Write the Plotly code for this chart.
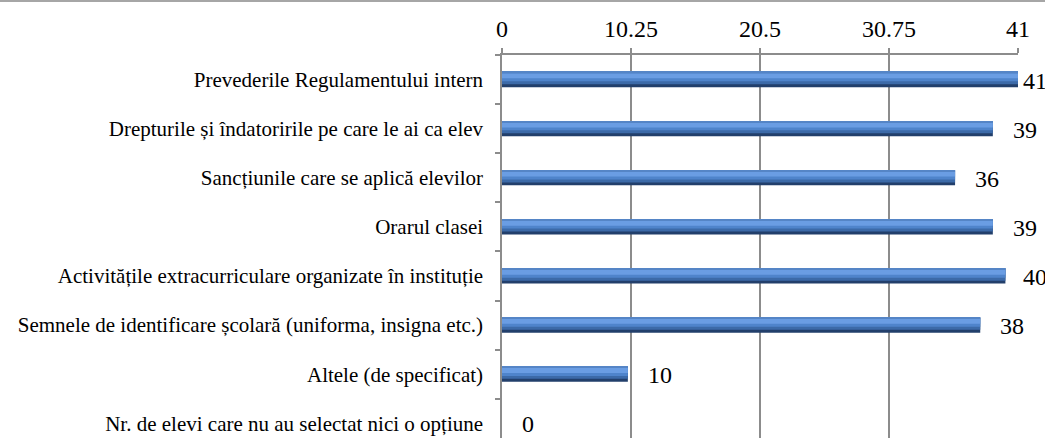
import plotly.graph_objects as go

categories = [
    "Prevederile Regulamentului intern",
    "Drepturile și îndatoririle pe care le ai ca elev",
    "Sancțiunile care se aplică elevilor",
    "Orarul clasei",
    "Activitățile extracurriculare organizate în instituție",
    "Semnele de identificare școlară (uniforma, insigna etc.)",
    "Altele (de specificat)",
    "Nr. de elevi care nu au selectat nici o opțiune",
]
values = [41, 39, 36, 39, 40, 38, 10, 0]
tick_vals = [0, 10.25, 20.5, 30.75, 41]
tick_text = ["0", "10.25", "20.5", "30.75", "41"]

W, H = 1045, 438
ML, MR, MT, MB = 502, 27, 55, 0
XMAX = 41
FONT = "Liberation Serif, Times New Roman, serif"

fig = go.Figure()

# layered bars to imitate the cylinder shading
layers = [
    (-0.155, 0.31, "#223f6b"),
    (-0.155, 0.25, "#3c6aa8"),
    (-0.155, 0.19, "#4f84cb"),
    (-0.125, 0.10, "#6a9de3"),
    (-0.155, 0.025, "#5585c6"),
]
for off, wid, col in layers:
    fig.add_trace(go.Bar(
        x=values, y=categories, orientation="h",
        offset=off, width=wid,
        marker=dict(color=col, line=dict(width=0)),
        hoverinfo="skip", showlegend=False,
    ))

# data labels
plot_w = W - ML - MR
label_size = 24
for c, v in zip(categories, values):
    end_px = ML + v / XMAX * plot_w
    txt_w = 0.5 * label_size * len(str(v))
    shift = min(18, W - end_px - txt_w)
    fig.add_annotation(
        x=v, y=c, text=str(v), showarrow=False,
        xanchor="left", yanchor="middle", xshift=shift, yshift=-1,
        font=dict(family=FONT, size=label_size, color="black"),
    )

fig.update_layout(
    width=W, height=H,
    margin=dict(l=ML, r=MR, t=MT, b=MB, pad=0),
    paper_bgcolor="white", plot_bgcolor="white",
    barmode="overlay",
    font=dict(family=FONT, color="black"),
    xaxis=dict(
        side="top", range=[0, XMAX],
        tickmode="array", tickvals=tick_vals, ticktext=tick_text,
        tickfont=dict(family=FONT, size=24, color="black"),
        showgrid=True, gridcolor="#8c8c8c", gridwidth=1.5,
        showline=True, linecolor="#8c8c8c", linewidth=1.5,
        ticks="outside", ticklen=5, tickcolor="#8c8c8c", tickwidth=1.5,
        ticklabelstandoff=2,
        zeroline=False, automargin=False, fixedrange=True,
    ),
    yaxis=dict(
        type="category", categoryorder="array", categoryarray=categories,
        range=[7.30, -0.5],
        tickfont=dict(family=FONT, size=21, color="black"),
        showline=True, linecolor="#8c8c8c", linewidth=1.5,
        ticks="outside", ticklen=5, tickcolor="#8c8c8c", tickwidth=1.5,
        tickson="boundaries", ticklabelstandoff=13,
        showgrid=False, zeroline=False, automargin=False, fixedrange=True,
    ),
    shapes=[dict(
        type="line", xref="paper", yref="paper",
        x0=-ML / plot_w, x1=(W - ML) / plot_w,
        y0=1 + (MT - 1) / (H - MT - MB), y1=1 + (MT - 1) / (H - MT - MB),
        line=dict(color="#a6a6a6", width=2),
    )],
)

fig.write_html(
    "out.html",
    config={"displayModeBar": False},
    post_script="document.body.style.margin='0';document.body.style.overflow='hidden';",
)
